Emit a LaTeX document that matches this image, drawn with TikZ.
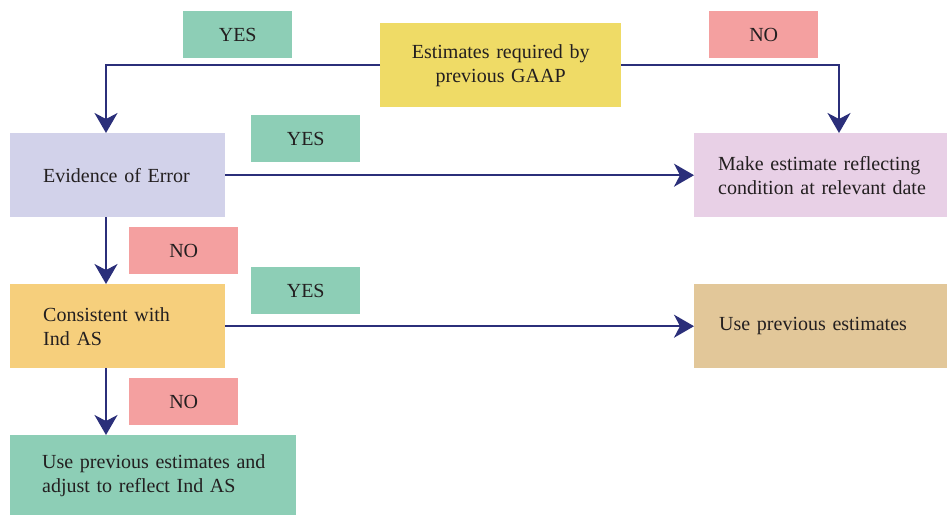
\documentclass[tikz,border=0pt]{standalone}
\usepackage{fontspec}
\setmainfont{Liberation Serif}
\usetikzlibrary{arrows.meta}
\definecolor{gaapyellow}{RGB}{239,219,102}
\definecolor{yesgreen}{RGB}{141,206,182}
\definecolor{nopink}{RGB}{244,160,160}
\definecolor{errlav}{RGB}{210,210,234}
\definecolor{mklilac}{RGB}{232,208,230}
\definecolor{conorange}{RGB}{246,207,124}
\definecolor{prevtan}{RGB}{226,199,153}
\definecolor{flownavy}{RGB}{43,47,122}
\definecolor{inkgray}{RGB}{35,31,32}
\begin{document}
\begin{tikzpicture}[x=1pt,y=-1pt,
    box/.style={anchor=north west,inner ysep=0pt,minimum height=84pt,align=left,text=inkgray,font=\fontsize{20}{24}\selectfont},
    tag/.style={anchor=north west,minimum width=109pt,minimum height=47pt,inner sep=0pt,text=inkgray,font=\fontsize{20}{24}\selectfont},
    flow/.style={draw=flownavy,line width=2pt,-{Stealth[length=20pt,width=23pt,inset=6pt]}}]
    \useasboundingbox (0,0) rectangle (947,515);
    \node[box,fill=gaapyellow,inner xsep=10pt,text width=221pt,align=center] (est) at (380,23) {Estimates required by\\previous GAAP};
    \node[box,fill=errlav,inner xsep=33pt,text width=149pt] (err) at (10,133) {\mbox{Evidence of Error}};
    \node[box,fill=mklilac,inner xsep=24pt,text width=205pt] (mk) at (694,133) {\mbox{Make estimate reflecting}\\\mbox{condition at relevant date}};
    \node[box,fill=conorange,inner xsep=33pt,text width=149pt] (con) at (10,284) {\mbox{Consistent with}\\\mbox{Ind AS}};
    \node[box,fill=prevtan,inner xsep=25pt,text width=203pt] (prev) at (694,284) {\mbox{Use previous estimates}};
    \node[box,fill=yesgreen,inner xsep=32pt,text width=222pt,minimum height=80pt] (adj) at (10,435) {\mbox{Use previous estimates and}\\\mbox{adjust to reflect Ind AS}};
    \node[tag,fill=yesgreen] (yes1) at (183,11) {YES};
    \node[tag,fill=nopink] (no1) at (709,11) {NO};
    \node[tag,fill=yesgreen] (yes2) at (251,115) {YES};
    \node[tag,fill=nopink] (no2) at (129,227) {NO};
    \node[tag,fill=yesgreen] (yes3) at (251,267) {YES};
    \node[tag,fill=nopink] (no3) at (129,378) {NO};
    \draw[flow] (est.west) -| ([xshift=96pt]err.north west);
    \draw[flow] (est.east) -| ([xshift=145pt]mk.north west);
    \draw[flow] (err.east) -- (mk.west);
    \draw[flow] ([xshift=96pt]err.south west) -- ([xshift=96pt]con.north west);
    \draw[flow] (con.east) -- (prev.west);
    \draw[flow] ([xshift=96pt]con.south west) -- ([xshift=96pt]adj.north west);
\end{tikzpicture}
\end{document}
